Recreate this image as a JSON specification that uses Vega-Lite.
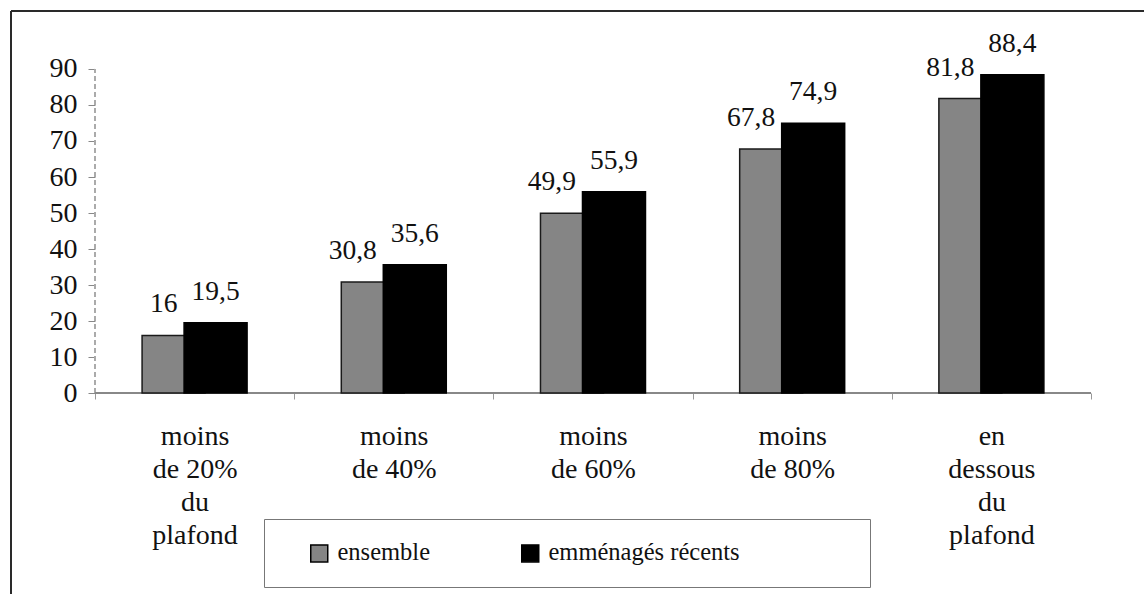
{
  "$schema": "https://vega.github.io/schema/vega-lite/v6.json",
  "width": 1133,
  "height": 583,
  "autosize": {"type": "none"},
  "padding": {"left": 11, "top": 11, "right": 0, "bottom": 0},
  "background": "white",
  "config": {
    "locale": {"number": {"decimal": ",", "thousands": " ", "grouping": [3], "currency": ["", " €"]}},
    "view": {"stroke": "#2a2a2a", "strokeWidth": 2, "strokeDash": [1133, 1716, 583, 0]},
    "font": "Liberation Serif"
  },
  "data": {
    "values": [
      {"cat": "moins|de 20%|du|plafond", "series": "ensemble", "value": 16},
      {"cat": "moins|de 40%", "series": "ensemble", "value": 30.8},
      {"cat": "moins|de 60%", "series": "ensemble", "value": 49.9},
      {"cat": "moins|de 80%", "series": "ensemble", "value": 67.8},
      {"cat": "en|dessous|du|plafond", "series": "ensemble", "value": 81.8},
      {"cat": "moins|de 20%|du|plafond", "series": "emménagés récents", "value": 19.5},
      {"cat": "moins|de 40%", "series": "emménagés récents", "value": 35.6},
      {"cat": "moins|de 60%", "series": "emménagés récents", "value": 55.9},
      {"cat": "moins|de 80%", "series": "emménagés récents", "value": 74.9},
      {"cat": "en|dessous|du|plafond", "series": "emménagés récents", "value": 88.4}
    ]
  },
  "encoding": {
    "y": {
      "field": "value",
      "type": "quantitative",
      "scale": {"domain": [-55.83, 106.11], "nice": false, "zero": false},
      "axis": {
        "orient": "left",
        "offset": -84,
        "values": [0, 10, 20, 30, 40, 50, 60, 70, 80, 90],
        "domain": false,
        "grid": false,
        "ticks": true,
        "tickSize": 7,
        "tickColor": "#888888",
        "labelPadding": 11,
        "labelFont": "Liberation Serif",
        "labelFontSize": 28,
        "labelColor": "#111111",
        "title": null
      }
    }
  },
  "layer": [
    {
      "mark": {"type": "rule", "color": "#aaaaaa", "strokeWidth": 1, "strokeDash": [5, 3]},
      "encoding": {
        "x": {"datum": "moins|de 20%|du|plafond", "type": "nominal", "bandPosition": 0,
              "scale": {"domain": ["moins|de 20%|du|plafond", "moins|de 40%", "moins|de 60%", "moins|de 80%", "en|dessous|du|plafond"], "paddingInner": 0, "paddingOuter": 0.3439, "align": 0.613}},
        "y": {"datum": 0, "type": "quantitative"},
        "y2": {"datum": 90}
      }
    },
    {
      "mark": {"type": "rule", "color": "#888888", "strokeWidth": 1.2},
      "encoding": {
        "x": {"datum": "moins|de 20%|du|plafond", "type": "nominal", "bandPosition": 0},
        "x2": {"datum": "en|dessous|du|plafond", "bandPosition": 1},
        "y": {"datum": 0, "type": "quantitative"}
      }
    },
    {
      "transform": [{"filter": "datum.series == 'ensemble'"}],
      "mark": {"type": "bar", "width": 63, "xOffset": -21, "stroke": "#1a1a1a", "strokeWidth": 1.5},
      "encoding": {
        "x": {
          "field": "cat",
          "type": "nominal",
          "axis": {
            "orient": "bottom",
            "offset": -201,
            "tickBand": "extent",
            "domain": false,
            "ticks": true,
            "tickSize": 6,
            "tickColor": "#999999",
            "labelFont": "Liberation Serif",
            "labelFontSize": 28,
            "labelColor": "#111111",
            "labelLineHeight": 33,
            "labelPadding": 37,
            "labelAngle": 0,
            "labelAlign": "center",
            "labelExpr": "split(datum.label, '|')",
            "title": null
          }
        },
        "color": {
          "field": "series",
          "type": "nominal",
          "scale": {"domain": ["ensemble", "emménagés récents"], "range": ["#858585", "#000000"]},
          "legend": {
            "orient": "none",
            "legendX": 253,
            "legendY": 508,
            "direction": "horizontal",
            "title": "\u00a0",
            "titleOrient": "left",
            "titleFontSize": 24.5,
            "titlePadding": 21,
            "padding": 22,
            "strokeColor": "#777777",
            "symbolType": "square",
            "symbolSize": 289,
            "symbolStrokeColor": "#000000",
            "symbolStrokeWidth": 1.5,
            "symbolOpacity": 1,
            "labelFont": "Liberation Serif",
            "labelFontSize": 24.5,
            "labelColor": "#111111",
            "labelLimit": 700,
            "labelOffset": 6,
            "labelExpr": "indexof(datum.label, 'cents') >= 0 ? datum.label + '\u2800\u2800\u2800\u2800\u2800\u2800' : datum.label",
            "columnPadding": 87
          }
        }
      }
    },
    {
      "transform": [{"filter": "datum.series == 'emménagés récents'"}],
      "mark": {"type": "bar", "width": 63, "xOffset": 21, "stroke": "#000000", "strokeWidth": 1.5},
      "encoding": {
        "x": {"field": "cat", "type": "nominal"},
        "color": {"field": "series", "type": "nominal"}
      }
    },
    {
      "transform": [{"filter": "datum.series == 'ensemble'"}],
      "mark": {"type": "text", "align": "right", "baseline": "alphabetic", "dx": 4, "dy": -23, "font": "Liberation Serif", "fontSize": 27.5, "color": "#111111"},
      "encoding": {
        "x": {"field": "cat", "type": "nominal", "bandPosition": 0.3946},
        "text": {"field": "value", "type": "quantitative"}
      }
    },
    {
      "transform": [{"filter": "datum.series == 'emménagés récents'"}],
      "mark": {"type": "text", "align": "center", "baseline": "alphabetic", "dy": -23, "font": "Liberation Serif", "fontSize": 27.5, "color": "#111111"},
      "encoding": {
        "x": {"field": "cat", "type": "nominal", "bandPosition": 0.6054},
        "text": {"field": "value", "type": "quantitative"}
      }
    }
  ]
}
